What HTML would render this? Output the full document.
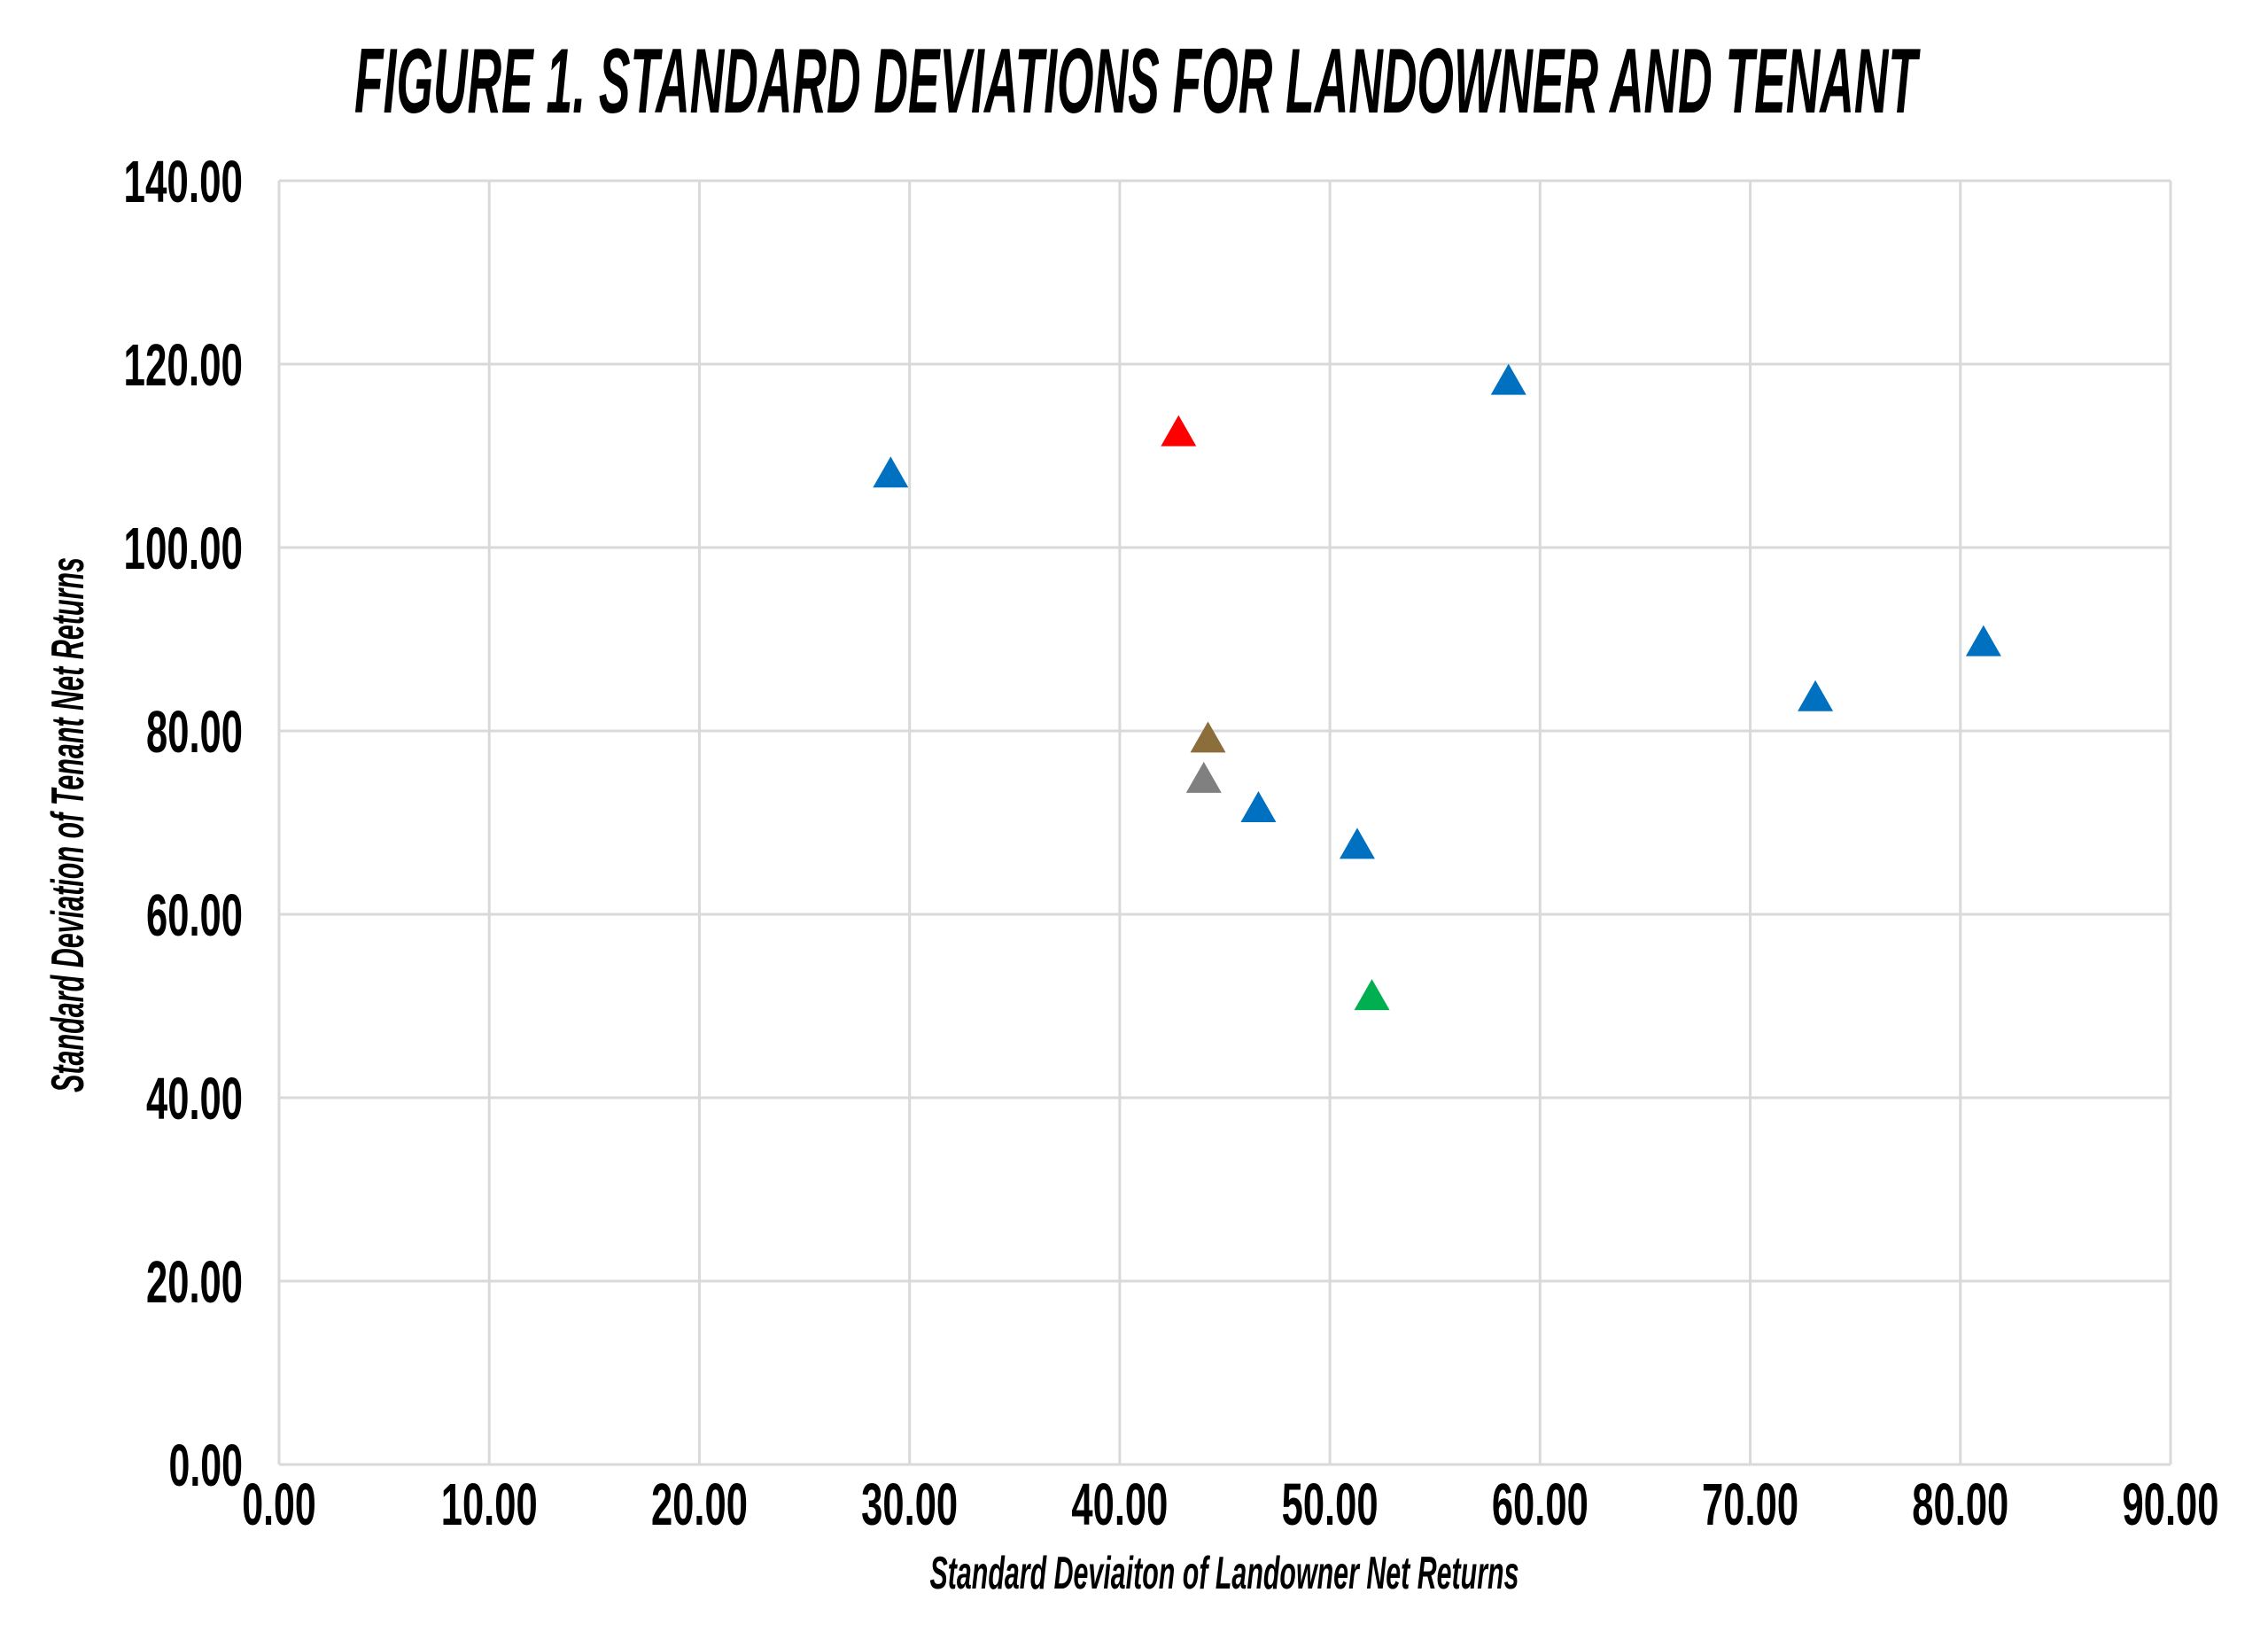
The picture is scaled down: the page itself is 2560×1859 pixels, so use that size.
<!DOCTYPE html>
<html><head><meta charset="utf-8"><style>
html,body{margin:0;padding:0;background:#fff;}
svg{display:block;}
text{font-family:"Liberation Sans Narrow","Liberation Sans",sans-serif;font-weight:bold;fill:#000;}
</style></head><body>
<svg id="chart" width="2560" height="1859" viewBox="0 0 2560 1859" xmlns="http://www.w3.org/2000/svg">
<text x="1282" y="127" text-anchor="middle" font-size="104" font-style="italic" textLength="1764" lengthAdjust="spacingAndGlyphs">FIGURE 1. STANDARD DEVIATIONS FOR LANDOWNER AND TENANT</text>
<g id="grid"></g>
<g id="ticks"></g>
<g id="marks"></g>
<text x="1382" y="1793" text-anchor="middle" font-size="52" font-style="italic" textLength="665" lengthAdjust="spacingAndGlyphs">Standard Deviaiton of Landowner Net Returns</text>
<text transform="translate(94,931) rotate(-90)" text-anchor="middle" font-size="52" font-style="italic" textLength="604" lengthAdjust="spacingAndGlyphs">Standard Deviation of Tenant Net Returns</text>
</svg>
<script>
const xTicks = [0,10,20,30,40,50,60,70,80,90];
const yTicks = [0,20,40,60,80,100,120,140];
const xValues = [29.1,42.8,58.5,81.1,73.1,44.2,44.0,46.6,51.3,52.0];
const yValues = [108.0,112.5,118.1,89.6,83.6,79.1,74.7,71.5,67.5,51.0];
const pointColors = ["#0070C0","#FF0000","#0070C0","#0070C0","#0070C0","#8C6D3C","#808080","#0070C0","#0070C0","#00B050"];

const L=315,R=2450,T=204,B=1653;
const xMax=90,yMax=140;
function sx(v){return L+(v/xMax)*(R-L);}
function sy(v){return B-(v/yMax)*(B-T);}
const NS="http://www.w3.org/2000/svg";
function mk(tag,attrs,parent){const e=document.createElementNS(NS,tag);for(const k in attrs)e.setAttribute(k,attrs[k]);parent.appendChild(e);return e;}
const grid=document.getElementById('grid'),ticks=document.getElementById('ticks'),marks=document.getElementById('marks');
function fmt(v){return v.toFixed(2);}
xTicks.forEach(v=>{
  const l=mk('line',{x1:sx(v),x2:sx(v),y1:T,y2:B,stroke:'#d9d9d9','stroke-width':3},grid);
  
  
  const s=fmt(v);
  const t=mk('text',{x:sx(v),y:1721,'text-anchor':'middle','font-size':67,textLength:(s.length-1)*25.5+7,lengthAdjust:'spacingAndGlyphs'},ticks);
  t.textContent=s;
  
  
});
yTicks.forEach(v=>{
  const l=mk('line',{x1:L,x2:R,y1:sy(v),y2:sy(v),stroke:'#d9d9d9','stroke-width':3},grid);
  
  
  const s=fmt(v);
  const t=mk('text',{x:274,y:sy(v)+24,'text-anchor':'end','font-size':67,textLength:(s.length-1)*25.5+7,lengthAdjust:'spacingAndGlyphs'},ticks);
  t.textContent=s;
  
  
});
xValues.forEach((xv,i)=>{
  const cx=sx(xv),cy=sy(yValues[i]);
  const p=mk('polygon',{points:`${cx},${cy-20} ${cx-20},${cy+15} ${cx+20},${cy+15}`,fill:pointColors[i]},marks);
  
  
});
</script>
</body></html>
